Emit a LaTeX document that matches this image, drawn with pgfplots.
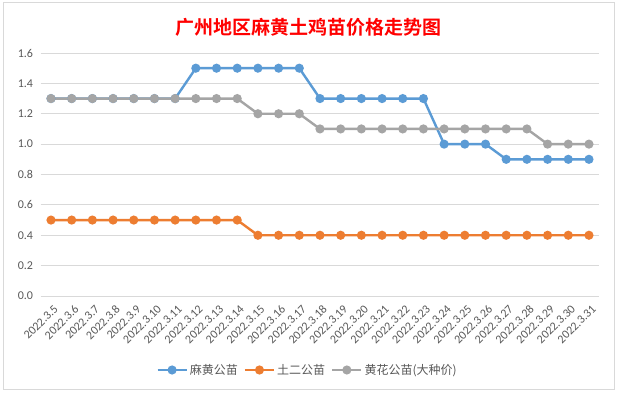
\documentclass[border=0pt]{standalone}
\usepackage{pgfplots}
\pgfplotsset{compat=1.18}
\usepackage{fontspec}
\setmainfont{Carlito}
\newfontfamily\cjk{Noto Sans CJK SC}
\newfontfamily\cjkb{Noto Sans CJK SC}[BoldFont={* Bold}]
\definecolor{sblue}{HTML}{5B9BD5}
\definecolor{sorange}{HTML}{ED7D31}
\definecolor{sgray}{HTML}{A5A5A5}
\definecolor{tickc}{HTML}{595959}
\definecolor{gridc}{HTML}{D9D9D9}
\begin{document}
\begin{tikzpicture}[x=1bp,y=1bp]
\fill[white] (0,0) rectangle (617,392);
\path[use as bounding box] (0,0) rectangle (617,392);
\draw[gridc,line width=0.8bp] (3,3) rectangle (614,390);
\node[text=red,font={\cjkb\bfseries\fontsize{19bp}{22bp}\selectfont}] at (308.5,364.5) {广州地区麻黄土鸡苗价格走势图};
\begin{axis}[
  at={(40.65bp,96bp)}, anchor=south west,
  width=558.65bp, height=243bp, scale only axis,
  xmin=-0.5, xmax=26.5, ymin=0, ymax=1.6,
  xtick={0,...,26},
  xticklabels={2022.3.5,2022.3.6,2022.3.7,2022.3.8,2022.3.9,2022.3.10,2022.3.11,2022.3.12,2022.3.13,2022.3.14,2022.3.15,2022.3.16,2022.3.17,2022.3.18,2022.3.19,2022.3.20,2022.3.21,2022.3.22,2022.3.23,2022.3.24,2022.3.25,2022.3.26,2022.3.27,2022.3.28,2022.3.29,2022.3.30,2022.3.31},
  ytick={0,0.2,...,1.6},
  axis line style={draw=none},
  major tick length=0pt,
  ymajorgrids, grid style={gridc,line width=0.8bp},
  /pgf/number format/assume math mode=true,
  yticklabel={\pgfmathprintnumber[fixed,fixed zerofill,precision=1]{\tick}},
  yticklabel style={font=\fontsize{12bp}{14bp}\selectfont, text=tickc, anchor=east, inner sep=0pt, xshift=-7.5bp},
  xticklabel style={font=\fontsize{12bp}{14bp}\selectfont, text=tickc, anchor=east, inner sep=0pt, xshift=5bp, yshift=-11bp, rotate=45},
  legend columns=3,
  legend style={at={(0.4777,-0.3045)}, anchor=center, draw=none, fill=none,
    font={\cjk\fontsize{12bp}{14bp}\selectfont}, text=tickc,
    /tikz/every even column/.append style={column sep=4bp}},
  legend image code/.code={\draw[mark repeat=2,mark phase=2] plot coordinates {(0bp,0bp)(14.5bp,0bp)(29bp,0bp)};},
  every axis plot/.append style={line width=2.4bp, mark=*, mark size=3.3bp, mark options={solid}},
  clip=false,
]
\addplot[sblue, mark options={fill=sblue, draw=sblue}] coordinates {
(0,1.3)(1,1.3)(2,1.3)(3,1.3)(4,1.3)(5,1.3)(6,1.3)(7,1.5)(8,1.5)(9,1.5)(10,1.5)(11,1.5)(12,1.5)(13,1.3)(14,1.3)(15,1.3)(16,1.3)(17,1.3)(18,1.3)(19,1.0)(20,1.0)(21,1.0)(22,0.9)(23,0.9)(24,0.9)(25,0.9)(26,0.9)};
\addlegendentry{麻黄公苗}
\addplot[sorange, mark options={fill=sorange, draw=sorange}] coordinates {
(0,0.5)(1,0.5)(2,0.5)(3,0.5)(4,0.5)(5,0.5)(6,0.5)(7,0.5)(8,0.5)(9,0.5)(10,0.4)(11,0.4)(12,0.4)(13,0.4)(14,0.4)(15,0.4)(16,0.4)(17,0.4)(18,0.4)(19,0.4)(20,0.4)(21,0.4)(22,0.4)(23,0.4)(24,0.4)(25,0.4)(26,0.4)};
\addlegendentry{土二公苗}
\addplot[sgray, mark options={fill=sgray, draw=sgray}] coordinates {
(0,1.3)(1,1.3)(2,1.3)(3,1.3)(4,1.3)(5,1.3)(6,1.3)(7,1.3)(8,1.3)(9,1.3)(10,1.2)(11,1.2)(12,1.2)(13,1.1)(14,1.1)(15,1.1)(16,1.1)(17,1.1)(18,1.1)(19,1.1)(20,1.1)(21,1.1)(22,1.1)(23,1.1)(24,1.0)(25,1.0)(26,1.0)};
\addlegendentry{黄花公苗(大种价)}
\end{axis}
\end{tikzpicture}
\end{document}
